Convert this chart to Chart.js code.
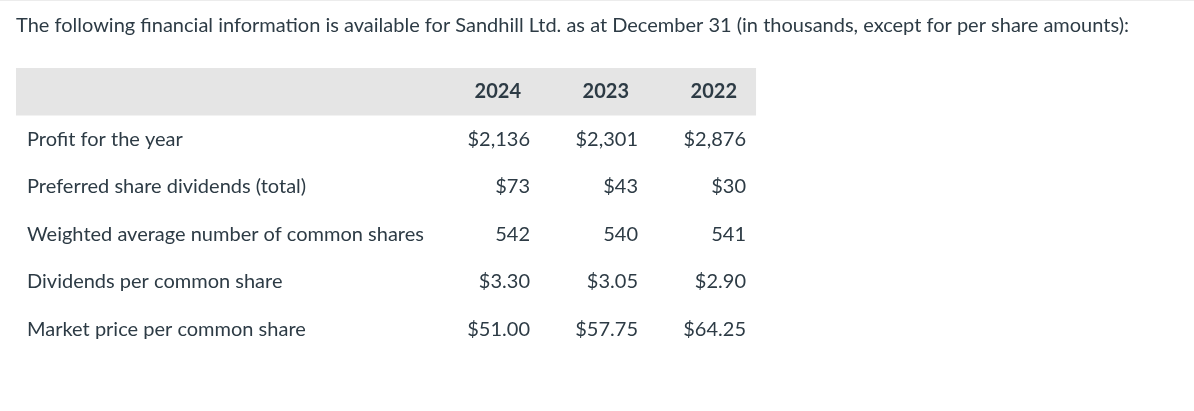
<!DOCTYPE html>
<html lang="en">
<head>
    <meta charset="UTF-8">
    <meta name="viewport" content="width=device-width, initial-scale=1.0">
    <title>Sandhill Ltd. financial information</title>
    <script src="https://cdn.jsdelivr.net/npm/chart.js@4.4.1/dist/chart.umd.min.js"></script>
    <style>
        html, body { margin: 0; padding: 0; background: #fff; }
        .frame { width: 1194px; height: 410px; border-top: 1px solid #ececec; }
    </style>
</head>
<body>
    <div class="frame">
        <canvas id="chart" width="1194" height="410"></canvas>
    </div>
    <script>
        // table data (in thousands, except per share amounts)
        const years = ['2024', '2023', '2022'];
        const rowLabels = [
            'Profit for the year',
            'Preferred share dividends (total)',
            'Weighted average number of common shares',
            'Dividends per common share',
            'Market price per common share'
        ];
        const profit = [2136, 2301, 2876];
        const preferredDividends = [73, 43, 30];
        const weightedShares = [542, 540, 541];
        const dividendsPerShare = [3.30, 3.05, 2.90];
        const marketPrice = [51.00, 57.75, 64.25];

        const TEXT = '#2d3b45';
        const FONT = 'Lato, "Open Sans", sans-serif';

        const dollars = v => '$' + v.toLocaleString('en-US');
        const dollars2 = v => '$' + v.toFixed(2);
        const plain = v => String(v);

        const rows = [
            { label: rowLabels[0], values: profit, fmt: dollars },
            { label: rowLabels[1], values: preferredDividends, fmt: dollars },
            { label: rowLabels[2], values: weightedShares, fmt: plain },
            { label: rowLabels[3], values: dividendsPerShare, fmt: dollars2 },
            { label: rowLabels[4], values: marketPrice, fmt: dollars2 }
        ];

        // first y category is the header row
        const yLabels = ['header'].concat(rowLabels);
        const LABEL_COL = -3.657;   // x value where row labels start
        const TABLE_END = 3.093;    // x value where the header band stops

        const datasets = rows.map(r => ({
            label: r.label,
            data: r.values.map((v, i) => ({ x: i + 1, y: r.label, v: v })),
            pointRadius: 0,
            fmt: r.fmt
        }));

        const tablePlugin = {
            id: 'table',
            beforeDatasetsDraw(chart) {
                const { ctx, chartArea, scales: { x, y } } = chart;
                const band = y.getPixelForValue(1) - y.getPixelForValue(0);
                const yh = y.getPixelForValue(0);
                ctx.save();
                ctx.fillStyle = '#e5e5e5';
                ctx.fillRect(chartArea.left, yh - band / 2, x.getPixelForValue(TABLE_END) - chartArea.left, band);

                ctx.fillStyle = TEXT;
                ctx.textBaseline = 'middle';
                ctx.textAlign = 'right';
                ctx.font = 'bold 20px ' + FONT;
                years.forEach((yr, i) => {
                    ctx.fillText(yr, x.getPixelForValue(i + 1) - 9, yh);
                });

                ctx.font = '20px ' + FONT;
                ctx.textAlign = 'left';
                rowLabels.forEach(lbl => {
                    ctx.fillText(lbl, x.getPixelForValue(LABEL_COL), y.getPixelForValue(lbl));
                });
                ctx.restore();
            },
            afterDatasetsDraw(chart) {
                const { ctx } = chart;
                ctx.save();
                ctx.fillStyle = TEXT;
                ctx.textBaseline = 'middle';
                ctx.textAlign = 'right';
                ctx.font = '20px ' + FONT;
                chart.data.datasets.forEach((ds, di) => {
                    const meta = chart.getDatasetMeta(di);
                    meta.data.forEach((pt, i) => {
                        ctx.fillText(ds.fmt(ds.data[i].v), pt.x, pt.y);
                    });
                });
                ctx.restore();
            }
        };

        new Chart(document.getElementById('chart'), {
            type: 'scatter',
            data: { datasets: datasets },
            options: {
                responsive: false,
                animation: false,
                layout: { padding: { left: 16, right: 16, top: 0, bottom: 58 } },
                scales: {
                    x: { type: 'linear', min: -3.759, max: 7.0, display: false },
                    y: { type: 'category', labels: yLabels, offset: true, display: false }
                },
                plugins: {
                    legend: { display: false },
                    tooltip: { enabled: false },
                    title: {
                        display: true,
                        align: 'start',
                        text: 'The following financial information is available for Sandhill Ltd. as at December 31 (in thousands, except for per share amounts):',
                        color: TEXT,
                        font: { family: FONT, size: 20, weight: 'normal' },
                        padding: { top: 12.3, bottom: 30.7 }
                    }
                }
            },
            plugins: [tablePlugin]
        });
    </script>
</body>
</html>
